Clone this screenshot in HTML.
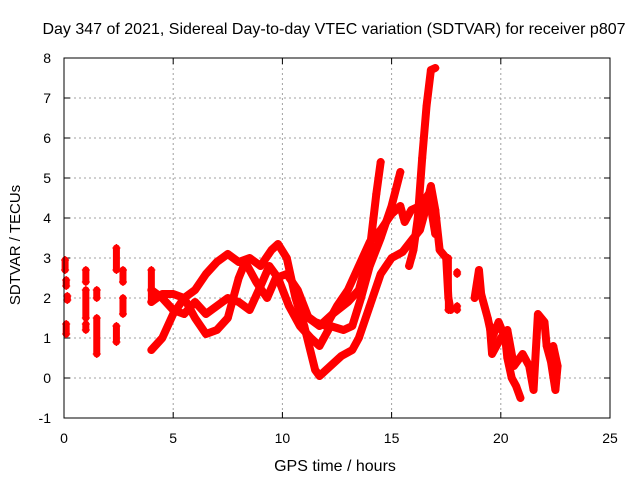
<!DOCTYPE html>
<html><head><meta charset="utf-8"><style>
html,body{margin:0;padding:0;background:#fff;}
svg{display:block;font-family:"Liberation Sans",sans-serif;}
</style></head><body>
<svg id="chart" width="640" height="480" viewBox="0 0 640 480">
<rect x="0" y="0" width="640" height="480" fill="#fff"/>
<text x="334" y="34" font-size="16" text-anchor="middle">Day 347 of 2021, Sidereal Day-to-day VTEC variation (SDTVAR) for receiver p807</text>
<text transform="translate(20,245) rotate(-90)" font-size="15" text-anchor="middle">SDTVAR / TECUs</text>
<text x="335" y="471" font-size="16" text-anchor="middle">GPS time / hours</text>
<g id="grid"></g>
<g id="ticks"></g>
<g id="marks"></g>
<rect x="64" y="58" width="546" height="360" fill="none" stroke="#000" stroke-width="1"/>
</svg>
<script>
const xTicks=[0,5,10,15,20,25];
const yTicks=[-1,0,1,2,3,4,5,6,7,8];
const track1=[[4.0,0.7],[4.5,1.0],[5.0,1.6],[5.5,2.0],[6.0,2.2],[6.5,2.6],[7.0,2.9],[7.5,3.1],[8.0,2.9],[8.5,3.0],[9.0,2.8],[9.5,3.2],[9.8,3.35],[10.2,3.0],[10.6,2.0],[11.0,1.3],[11.5,0.2],[11.7,0.05],[12.2,0.3],[12.7,0.55],[13.2,0.7],[13.5,1.0],[14.0,1.8],[14.5,2.6],[15.0,3.0],[15.5,3.15],[16.0,3.5],[16.3,3.7],[16.5,4.1],[16.8,4.8],[17.0,4.2],[17.2,3.2],[17.5,3.0],[17.6,2.0],[17.7,1.7]];
const track2=[[4.0,2.2],[4.5,2.0],[5.0,1.7],[5.5,1.6],[6.0,1.9],[6.5,1.6],[7.0,1.8],[7.5,2.0],[8.0,1.9],[8.5,1.7],[9.0,2.3],[9.4,2.8],[9.8,2.5],[10.3,1.8],[10.8,1.3],[11.3,1.0],[11.7,0.8],[12.2,1.3],[12.8,1.2],[13.2,1.3],[13.6,2.0],[14.0,2.8],[14.5,3.5],[15.0,4.3],[15.4,5.15]];
const track3=[[4.0,1.9],[4.5,2.1],[5.0,2.1],[5.5,2.0],[6.0,1.5],[6.5,1.1],[7.0,1.2],[7.5,1.5],[8.0,2.5],[8.3,2.9],[8.8,2.4],[9.3,2.0],[9.7,2.5],[10.2,2.6],[10.7,2.2],[11.2,1.5],[11.7,1.3],[12.3,1.6],[13.0,1.9],[13.5,2.2],[14.0,3.2],[14.3,4.6],[14.5,5.4]];
const track4=[[15.8,2.8],[16.0,3.2],[16.2,4.0],[16.4,5.5],[16.6,6.8],[16.8,7.7],[17.0,7.75]];
const track5=[[11.0,1.6],[11.5,1.4],[12.0,1.3],[12.5,1.8],[13.0,2.2],[13.5,2.8],[14.0,3.4],[14.5,3.7],[15.0,4.1],[15.4,4.3],[15.6,3.9],[15.9,4.2],[16.3,4.3],[16.7,4.6],[17.0,3.6]];
const track6=[[18.8,2.0],[19.0,2.7],[19.1,2.1],[19.4,1.5],[19.6,1.0],[19.9,1.4],[20.2,1.0],[20.3,0.5],[20.5,0.0],[20.7,-0.2],[20.9,-0.5]];
const track7=[[19.5,1.3],[19.6,0.6],[20.0,1.0],[20.3,1.2],[20.6,0.3],[21.0,0.6],[21.3,0.3],[21.5,-0.3],[21.7,1.6],[22.0,1.4],[22.1,0.8],[22.3,0.4],[22.5,-0.3],[22.6,0.3],[22.4,0.8]];
const clusterHours=[0.05,0.1,0.1,0.15,1.0,1.0,1.0,1.5,1.5,2.4,2.4,2.7,2.7,4.0,17.6,18.0,18.0];
const clusterLow=[2.7,2.3,1.1,1.95,2.4,1.5,1.2,2.0,0.6,2.7,0.9,2.4,1.6,1.9,1.7,2.6,1.7];
const clusterHigh=[2.95,2.45,1.35,2.05,2.7,2.2,1.35,2.2,1.5,3.25,1.3,2.7,2.0,2.7,3.0,2.65,1.8];

const NS='http://www.w3.org/2000/svg';
const X=h=>64+h*546/25, Y=v=>418-(v+1)*40;
const grid=document.getElementById('grid'),ticks=document.getElementById('ticks'),marks=document.getElementById('marks');
function mk(tag,attrs,parent){const e=document.createElementNS(NS,tag);for(const k in attrs)e.setAttribute(k,attrs[k]);parent.appendChild(e);return e;}
xTicks.forEach(t=>{
  if(t>0&&t<25){const g=mk('line',{x1:X(t),x2:X(t),y1:58,y2:418,stroke:'#a0a0a0','stroke-dasharray':'2,3'},grid);
  
  }
  const a=mk('line',{x1:X(t),x2:X(t),y1:418,y2:412,stroke:'#000'},ticks);
  
  
  const b=mk('line',{x1:X(t),x2:X(t),y1:58,y2:64,stroke:'#000'},ticks);
  
  
  const l=mk('text',{x:X(t),y:443,'font-size':14,'text-anchor':'middle'},ticks);l.textContent=t;
  
  
});
yTicks.forEach(t=>{
  if(t>-1&&t<8){const g=mk('line',{x1:64,x2:610,y1:Y(t),y2:Y(t),stroke:'#a0a0a0','stroke-dasharray':'2,3'},grid);
  
  }
  const a=mk('line',{x1:64,x2:70,y1:Y(t),y2:Y(t),stroke:'#000'},ticks);
  
  
  const b=mk('line',{x1:604,x2:610,y1:Y(t),y2:Y(t),stroke:'#000'},ticks);
  
  
  const l=mk('text',{x:51,y:Y(t)+5,'font-size':14,'text-anchor':'end'},ticks);l.textContent=t;
  
  
});
function plus(h,v){const p=mk('path',{d:`M${X(h)-4},${Y(v)}h8M${X(h)},${Y(v)-4}v8`,stroke:'#f00','stroke-width':1.2,fill:'none'},marks);
  
  }
[track1,track2,track3,track4,track5,track6,track7].forEach((tr,i)=>{
  const pl=mk('polyline',{points:tr.map(p=>X(p[0])+','+Y(p[1])).join(' '),fill:'none',stroke:'#f00','stroke-width':8,'stroke-linejoin':'round','stroke-linecap':'round'},marks);
  
  
  tr.forEach(p=>plus(p[0],p[1]));
});
clusterHours.forEach((h,i)=>{
  const s=mk('line',{x1:X(h),x2:X(h),y1:Y(clusterLow[i]),y2:Y(clusterHigh[i]),stroke:'#f00','stroke-width':7,'stroke-linecap':'round'},marks);
  
  
  plus(h,clusterLow[i]);plus(h,clusterHigh[i]);
});
</script>
</body></html>
